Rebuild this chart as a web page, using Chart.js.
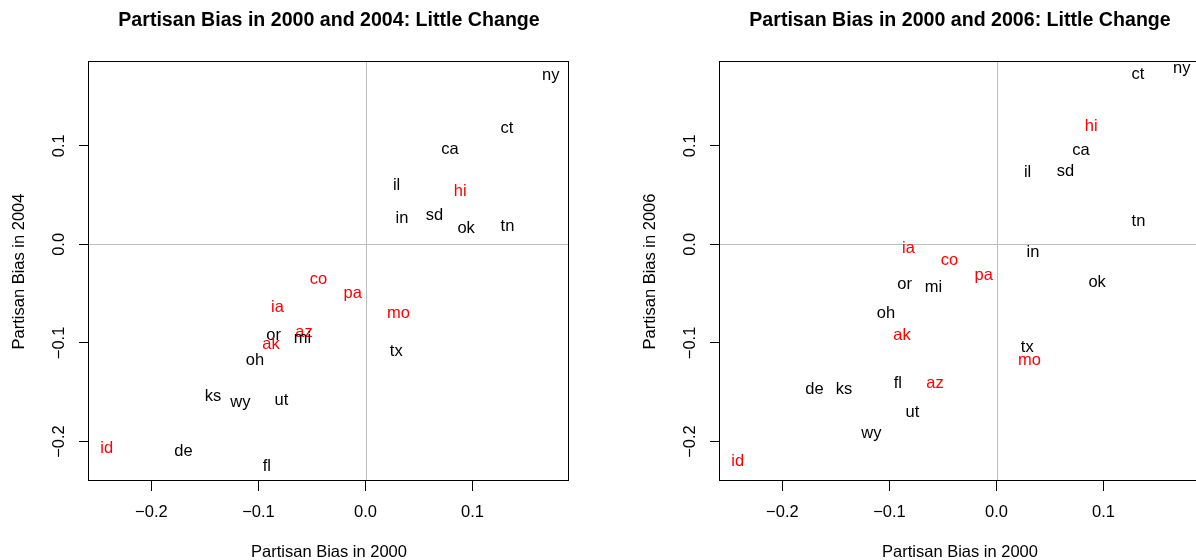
<!DOCTYPE html>
<html>
<head>
<meta charset="utf-8">
<script src="https://cdn.jsdelivr.net/npm/chart.js@4.4.0/dist/chart.umd.min.js"></script>
<style>
html, body { margin:0; padding:0; background:#fff; width:1196px; height:560px; overflow:hidden; }
.panel { position:absolute; top:0; width:600px; height:570px; }
#leftPanel { left:0; }
#rightPanel { left:631px; }
</style>
</head>
<body>
<div class="panel" id="leftPanel"><canvas id="chart2004" width="600" height="570"></canvas></div>
<div class="panel" id="rightPanel"><canvas id="chart2006" width="600" height="570"></canvas></div>
<script>
// state labels and partisan bias values
const states   = ["ny","ct","ca","il","hi","in","sd","ok","tn","co","pa","ia","mo","or","az","mi","ak","tx","oh","ks","wy","ut","id","de","fl"];
const bias2000 = [0.173,0.132,0.079,0.029,0.0885,0.034,0.0645,0.094,0.1326,-0.044,-0.012,-0.0823,0.0308,-0.0858,-0.0575,-0.059,-0.0883,0.0287,-0.1032,-0.1424,-0.1169,-0.0786,-0.2417,-0.17,-0.0921];
const bias2004 = [0.171,0.1174,0.0961,0.0599,0.0541,0.0261,0.0294,0.0159,0.0183,-0.0358,-0.0494,-0.0636,-0.0704,-0.0924,-0.089,-0.0958,-0.1015,-0.1083,-0.1178,-0.1543,-0.1601,-0.1584,-0.2068,-0.2098,-0.2251];
const bias2006 = [0.1784,0.1726,0.0954,0.0724,0.1191,-0.0078,0.0741,-0.0389,0.0237,-0.0162,-0.0318,-0.0044,-0.1178,-0.0406,-0.1408,-0.0434,-0.0924,-0.1043,-0.0697,-0.1475,-0.1922,-0.1703,-0.22,-0.1472,-0.1408];
const redStates = ["hi","co","pa","ia","mo","az","ak","id"];
const tickValues = [-0.2, -0.1, 0.0, 0.1];

const X_MIN = -0.2583, X_MAX = 0.1901;
const Y_MIN = -0.2400, Y_MAX = 0.1849;
const FONT = "'Liberation Sans', Arial, Helvetica, sans-serif";
const REF_COLOR = "#bebebe";

function fmt(v){
  const s = Math.abs(v).toFixed(1);
  return v < -1e-9 ? "\u2212" + s : s;
}

const panelPlugin = {
  id: "panel",
  beforeDatasetsDraw(chart){
    const {ctx, chartArea:a, scales:{x, y}} = chart;
    const px = Math.round(x.getPixelForValue(0)) + 0.5;
    const py = Math.round(y.getPixelForValue(0)) + 0.5;
    ctx.save();
    ctx.strokeStyle = REF_COLOR;
    ctx.lineWidth = 1;
    ctx.beginPath();
    ctx.moveTo(px, a.top); ctx.lineTo(px, a.bottom);
    ctx.moveTo(a.left, py); ctx.lineTo(a.right, py);
    ctx.stroke();
    ctx.restore();
  },
  afterDatasetsDraw(chart){
    const {ctx} = chart;
    const meta = chart.getDatasetMeta(0);
    ctx.save();
    ctx.font = "16.5px " + FONT;
    ctx.textAlign = "center";
    ctx.textBaseline = "middle";
    meta.data.forEach((pt, i) => {
      ctx.fillStyle = redStates.includes(states[i]) ? "#ff0000" : "#000000";
      ctx.fillText(states[i], pt.x, pt.y);
    });
    ctx.restore();
  },
  afterDraw(chart){
    const {ctx, chartArea:a, scales:{y}} = chart;
    ctx.save();
    // frame
    ctx.strokeStyle = "#000";
    ctx.lineWidth = 1;
    ctx.strokeRect(a.left - 0.5, a.top - 0.5, a.right - a.left, a.bottom - a.top);
    // y tick labels, parallel to the axis
    ctx.fillStyle = "#000";
    ctx.font = "16.5px " + FONT;
    ctx.textAlign = "center";
    ctx.textBaseline = "middle";
    y.ticks.forEach(t => {
      ctx.save();
      ctx.translate(y.right - 30, y.getPixelForValue(t.value));
      ctx.rotate(-Math.PI / 2);
      ctx.fillText(fmt(t.value), 0, 0);
      ctx.restore();
    });
    ctx.restore();
  }
};

function makeChart(id, title, yTitle, yValues){
  return new Chart(document.getElementById(id), {
    type: "scatter",
    data: {
      datasets: [{
        data: states.map((s, i) => ({x: bias2000[i], y: yValues[i]})),
        pointRadius: 0,
        pointHoverRadius: 0
      }]
    },
    options: {
      responsive: false,
      animation: false,
      events: [],
      layout: {padding: {left: 0, right: 31, top: 0, bottom: 0}},
      plugins: {
        legend: {display: false},
        tooltip: {enabled: false},
        title: {
          display: true,
          fullSize: false,
          text: title,
          color: "#000",
          font: {family: FONT, size: 19.6, weight: "bold", lineHeight: 1.2},
          padding: {top: 9, bottom: 29.5}
        }
      },
      scales: {
        x: {
          type: "linear",
          min: X_MIN, max: X_MAX,
          afterBuildTicks: s => { s.ticks = tickValues.map(v => ({value: v})); },
          afterFit: s => { s.height = 89; },
          border: {display: false},
          grid: {drawOnChartArea: false, drawTicks: true, tickLength: 10, color: "#000", lineWidth: 1},
          ticks: {color: "#000", font: {family: FONT, size: 16.5}, padding: 12, maxRotation: 0, autoSkip: false, callback: v => fmt(v)},
          title: {display: true, text: "Partisan Bias in 2000", color: "#000", font: {family: FONT, size: 16.5}, padding: {top: 0, bottom: 8}}
        },
        y: {
          type: "linear",
          min: Y_MIN, max: Y_MAX,
          afterBuildTicks: s => { s.ticks = tickValues.map(v => ({value: v})); },
          afterFit: s => { s.width = 89; },
          border: {display: false},
          grid: {drawOnChartArea: false, drawTicks: true, tickLength: 10, color: "#000", lineWidth: 1},
          ticks: {display: false},
          title: {display: true, text: yTitle, color: "#000", font: {family: FONT, size: 16.5}, padding: {top: 10, bottom: 0}}
        }
      }
    },
    plugins: [panelPlugin]
  });
}

makeChart("chart2004", "Partisan Bias in 2000 and 2004: Little Change", "Partisan Bias in 2004", bias2004);
makeChart("chart2006", "Partisan Bias in 2000 and 2006: Little Change", "Partisan Bias in 2006", bias2006);
</script>
</body>
</html>
